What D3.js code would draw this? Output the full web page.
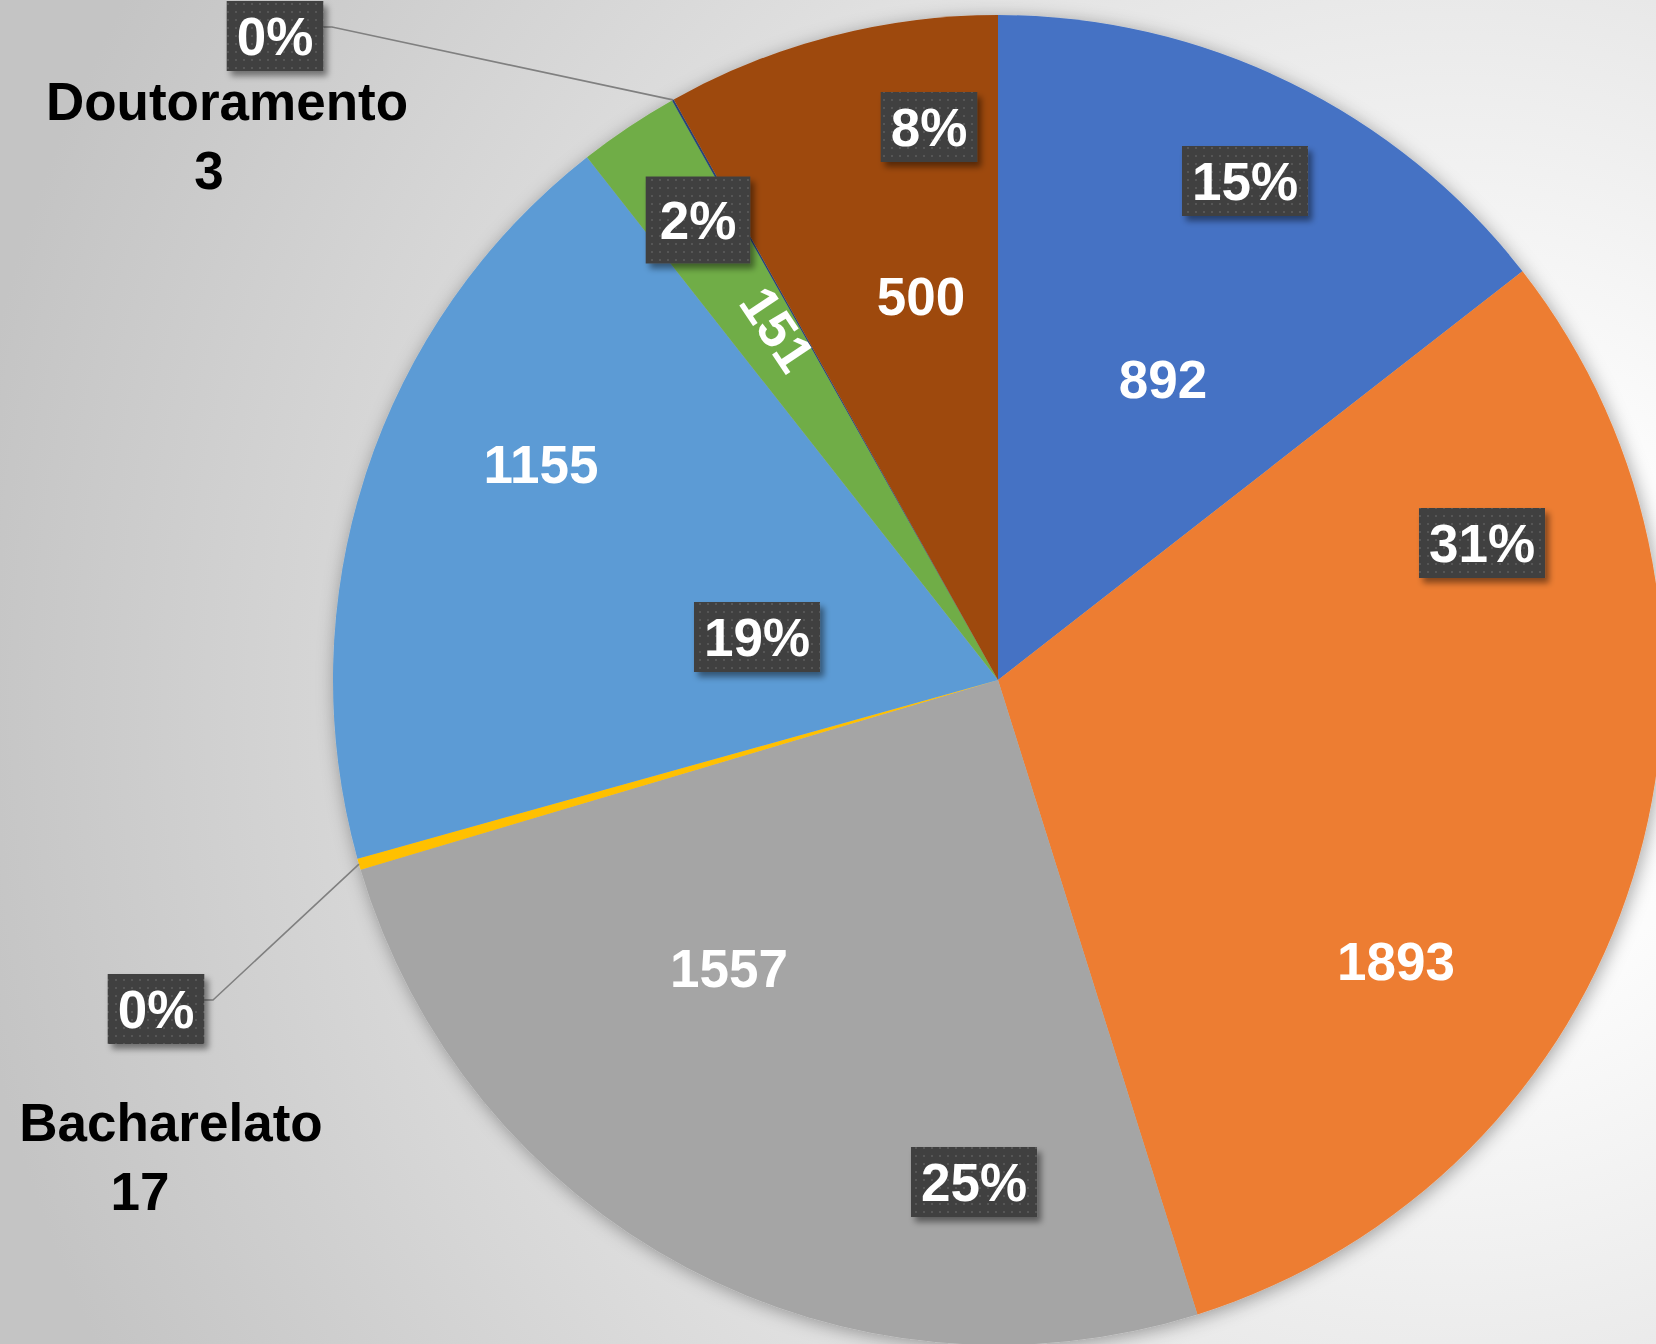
<!DOCTYPE html>
<html>
<head>
<meta charset="utf-8">
<script src="https://cdn.jsdelivr.net/npm/d3@7"></script>
<style>
  html, body { margin: 0; padding: 0; overflow: hidden; }
  svg { display: block; }
  text { font-family: "Liberation Sans", Arial, sans-serif; font-weight: bold; }
</style>
</head>
<body>
<svg id="chart"></svg>
<script>
// slices, clockwise from 12 o'clock
var categories = ["Licenciatura", "Ensino Secundário", "Ensino Básico", "Bacharelato",
                  "Mestrado", "Pós-graduação", "Doutoramento", "Outro"];
var values = [892, 1893, 1557, 17, 1155, 151, 3, 500];
var colors = ["#4472C4", "#ED7D31", "#A5A5A5", "#FFC000", "#5B9BD5", "#70AD47", "#264478", "#9E480E"];
// which slices show their category name outside the pie
var showName = [false, false, false, true, false, false, true, false];

// label placement (layout only)
var pctPos = [[1245, 181], [1482, 543], [974, 1182], [156, 1009], [757, 637], [698, 220], [275, 36], [929, 127]];
var valPos = [[1163, 379], [1396, 961], [729, 968], null, [541, 464], [778, 329], null, [921, 296]];
var namePos = { 3: [[171, 1141], [140, 1210]], 6: [[227, 120], [209, 189]] };

var W = 1656, H = 1344;
var cx = 998, cy = 680, R = 665;
var fs = 53;

var svg = d3.select("#chart").attr("width", W).attr("height", H);
var defs = svg.append("defs");

var bg = defs.append("radialGradient").attr("id", "bg")
    .attr("gradientUnits", "userSpaceOnUse")
    .attr("cx", 1450).attr("cy", 700).attr("r", 1500);
bg.append("stop").attr("offset", 0).attr("stop-color", "#ffffff");
bg.append("stop").attr("offset", 0.2).attr("stop-color", "#fcfcfc");
bg.append("stop").attr("offset", 1).attr("stop-color", "#c4c4c4");

var pieShadow = defs.append("filter").attr("id", "pieShadow")
    .attr("x", "-10%").attr("y", "-10%").attr("width", "120%").attr("height", "120%");
pieShadow.append("feDropShadow").attr("dx", 2).attr("dy", 3)
    .attr("stdDeviation", 9).attr("flood-color", "#000").attr("flood-opacity", 0.35);

var boxShadow = defs.append("filter").attr("id", "boxShadow")
    .attr("x", "-20%").attr("y", "-20%").attr("width", "150%").attr("height", "160%");
boxShadow.append("feDropShadow").attr("dx", 4).attr("dy", 5)
    .attr("stdDeviation", 3).attr("flood-color", "#000").attr("flood-opacity", 0.45);

var dots = defs.append("pattern").attr("id", "dots")
    .attr("patternUnits", "userSpaceOnUse").attr("width", 8).attr("height", 8);
dots.append("rect").attr("width", 8).attr("height", 8).attr("fill", "#404040");
dots.append("rect").attr("x", 3).attr("y", 3).attr("width", 2).attr("height", 2).attr("fill", "#575757");

svg.append("rect").attr("width", W).attr("height", H).attr("fill", "url(#bg)");

var total = d3.sum(values);
var pie = d3.pie().sort(null).value(function(d) { return d; });
var arcs = pie(values);
var arc = d3.arc().innerRadius(0).outerRadius(R);

// whole percentages that add up to 100 (largest remainder)
var raw = values.map(function(v) { return v / total * 100; });
var pct = raw.map(Math.floor);
var left = 100 - d3.sum(pct);
d3.range(values.length)
  .sort(function(a, b) { return (raw[b] - pct[b]) - (raw[a] - pct[a]); })
  .slice(0, left)
  .forEach(function(i) { pct[i] += 1; });

var g = svg.append("g").attr("transform", "translate(" + cx + "," + cy + ")");

g.append("g").attr("filter", "url(#pieShadow)")
  .selectAll("path")
  .data(arcs)
  .enter().append("path")
    .attr("d", arc)
    .attr("fill", function(d, i) { return colors[i]; });

// leader lines for the tiny slices
arcs.forEach(function(d, i) {
    if (!showName[i]) return;
    var a = (d.startAngle + d.endAngle) / 2;
    var ex = cx + R * Math.sin(a), ey = cy - R * Math.cos(a);
    var p = pctPos[i];
    var sx = p[0] + 47, sy = p[1] - 9;
    svg.append("polyline")
        .attr("points", [[sx, sy], [sx + 10, sy], [ex, ey]].map(function(q) { return q.join(","); }).join(" "))
        .attr("fill", "none")
        .attr("stroke", "#808080")
        .attr("stroke-width", 1.6);
});

// value labels inside slices
arcs.forEach(function(d, i) {
    var p = valPos[i];
    if (!p) return;
    var t = svg.append("text")
        .attr("text-anchor", "middle")
        .attr("fill", "#fff")
        .attr("font-size", fs)
        .text(values[i]);
    var a = (d.startAngle + d.endAngle) / 2 * 180 / Math.PI;
    if (d.endAngle - d.startAngle < 0.2) {
        // narrow slice: label runs along the radius
        t.attr("transform", "translate(" + p[0] + "," + p[1] + ") rotate(" + (a - 270) + ")")
         .attr("y", fs * 0.36);
    } else {
        t.attr("x", p[0]).attr("y", p[1] + fs * 0.36);
    }
});

// percentage labels in dark boxes
arcs.forEach(function(d, i) {
    var p = pctPos[i];
    var lg = svg.append("g");
    var box = lg.append("rect").attr("fill", "url(#dots)").attr("filter", "url(#boxShadow)");
    var t = lg.append("text")
        .attr("x", p[0]).attr("y", p[1] + fs * 0.36)
        .attr("text-anchor", "middle")
        .attr("fill", "#fff")
        .attr("font-size", fs)
        .text(pct[i] + "%");
    var tw = t.node().getComputedTextLength();
    var padX = 10, h = 70;
    if (i === 5) { padX = 14; h = 87; }
    box.attr("x", p[0] - tw / 2 - padX).attr("y", p[1] - h / 2)
       .attr("width", tw + 2 * padX).attr("height", h);
});

// category names for the slices that show them
arcs.forEach(function(d, i) {
    if (!showName[i]) return;
    var lines = [categories[i], String(values[i])];
    namePos[i].forEach(function(q, k) {
        svg.append("text")
            .attr("x", q[0]).attr("y", q[1])
            .attr("text-anchor", "middle")
            .attr("fill", "#000")
            .attr("font-size", fs)
            .text(lines[k]);
    });
});
</script>
</body>
</html>
